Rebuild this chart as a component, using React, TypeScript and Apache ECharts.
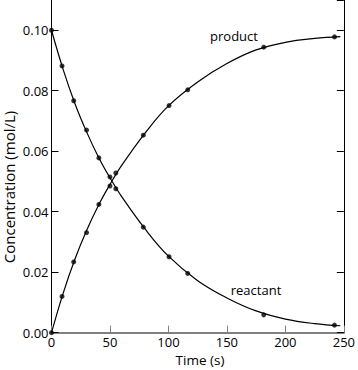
import React, { useEffect, useRef } from "react";
import * as echarts from "echarts";

// measured data points
const times = [0, 9, 19, 30, 40.5, 50, 55, 78.5, 100.5, 116.5, 181.5, 242];
const reactant = [0.1, 0.0882, 0.0767, 0.067, 0.0578, 0.0515, 0.0476, 0.0349, 0.0251, 0.0196, 0.0059, 0.0025];
const product = [0.0, 0.012, 0.0234, 0.0331, 0.0424, 0.0485, 0.0528, 0.0653, 0.0751, 0.0803, 0.0944, 0.0978];

// fitted curves
const curveTimes = [0, 10, 20, 30, 40, 50, 60, 80, 100, 125, 150, 175, 200, 225, 247];
const reactantCurve = [0.1, 0.087, 0.0758, 0.0664, 0.0582, 0.0512, 0.045, 0.0343, 0.0253, 0.0172, 0.0115, 0.0072, 0.0045, 0.003, 0.0023];
const productCurve = [0.0, 0.0131, 0.0243, 0.0338, 0.042, 0.049, 0.0553, 0.066, 0.075, 0.0829, 0.089, 0.0935, 0.096, 0.0973, 0.0979];

const yTickFormat = (v: number) => v.toFixed(2);

const FONT = "'Open Sans', sans-serif";

export default function App() {
  const ref = useRef<HTMLDivElement>(null);
  useEffect(() => {
    if (!ref.current) return;
    const chart = echarts.init(ref.current, undefined, { renderer: "svg" });
    const pairs = (xs: number[], ys: number[]) => xs.map((t, i) => [t, ys[i]]);
    const curve = (name: string, ys: number[]) => ({
      name,
      type: "line",
      data: pairs(curveTimes, ys),
      smooth: 0.4,
      showSymbol: false,
      symbol: "none",
      lineStyle: { color: "#000", width: 1.2 },
      silent: true,
      z: 2,
    });
    const points = (name: string, ys: number[]) => ({
      name,
      type: "scatter",
      data: pairs(times, ys),
      symbol: "circle",
      symbolSize: 5,
      itemStyle: { color: "#000" },
      silent: true,
      z: 3,
    });
    chart.setOption({
      animation: false,
      backgroundColor: "#fff",
      grid: { left: 51.5, right: 12.5, top: -3.4, bottom: 37.3, containLabel: false },
      xAxis: {
        type: "value",
        min: 0,
        max: 250,
        interval: 50,
        axisLine: { show: true, lineStyle: { color: "#808080", width: 2 } },
        axisTick: { show: true, inside: true, length: 7, lineStyle: { color: "#808080", width: 1 } },
        axisLabel: { color: "#000", fontFamily: FONT, fontSize: 13, margin: 3 },
        splitLine: { show: false },
      },
      yAxis: [
        {
          type: "value",
          min: 0,
          max: 0.11,
          interval: 0.02,
          axisLine: { show: true, lineStyle: { color: "#000", width: 1 } },
          axisTick: { show: true, inside: true, length: 7, lineStyle: { color: "#000", width: 1 } },
          axisLabel: { color: "#000", fontFamily: FONT, fontSize: 13, margin: 3, formatter: yTickFormat, showMaxLabel: false },
          splitLine: { show: false },
        },
        {
          type: "value",
          position: "right",
          min: 0,
          max: 0.11,
          interval: 0.02,
          axisLine: { show: true, lineStyle: { color: "#000", width: 1 } },
          axisTick: { show: true, inside: true, length: 7, lineStyle: { color: "#000", width: 1 } },
          axisLabel: { show: false },
          splitLine: { show: false },
        },
      ],
      series: [
        curve("reactant fit", reactantCurve),
        curve("product fit", productCurve),
        points("reactant", reactant),
        points("product", product),
      ],
      graphic: [
        {
          type: "text",
          x: 9,
          y: 187,
          rotation: Math.PI / 2,
          style: { text: "Concentration (mol/L)", font: `15px ${FONT}`, fill: "#000", align: "center", verticalAlign: "middle" },
        },
        {
          type: "text",
          x: 200,
          y: 359.5,
          style: { text: "Time (s)", font: `13.5px ${FONT}`, fill: "#000", align: "center", verticalAlign: "middle" },
        },
        {
          type: "text",
          x: 234,
          y: 36,
          style: { text: "product", font: `13px ${FONT}`, fill: "#000", align: "center", verticalAlign: "middle" },
        },
        {
          type: "text",
          x: 256,
          y: 290,
          style: { text: "reactant", font: `13px ${FONT}`, fill: "#000", align: "center", verticalAlign: "middle" },
        },
      ],
    });
    return () => chart.dispose();
  }, []);
  return <div ref={ref} style={{ width: 358, height: 370, position: "absolute", left: 0, top: 0 }} />;
}
